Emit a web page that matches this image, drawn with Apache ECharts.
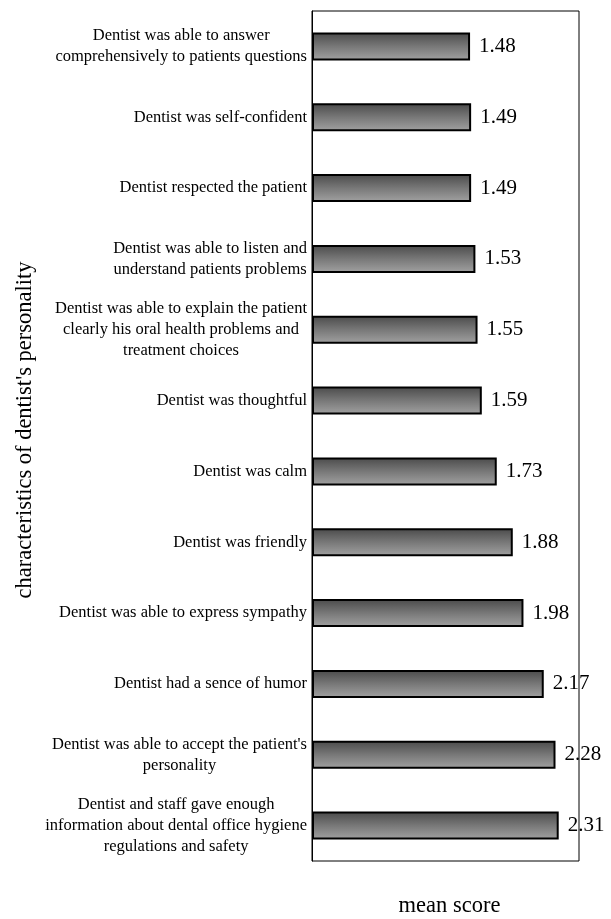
<!DOCTYPE html>
<html>
<head>
<meta charset="utf-8">
<script src="https://cdn.jsdelivr.net/npm/echarts@6/dist/echarts.min.js"></script>
<style>
  html, body { margin: 0; padding: 0; background: #fff; }
  #chart { width: 611px; height: 919px; }
</style>
</head>
<body>
<div id="chart"></div>
<script>
// Characteristics of the dentist's personality, top to bottom
const categories = [
  "Dentist was able to answer\ncomprehensively to patients questions",
  "Dentist was self-confident",
  "Dentist respected the patient",
  "Dentist was able to listen and\nunderstand patients problems",
  "Dentist was able to explain the patient\nclearly his oral health problems and\ntreatment choices",
  "Dentist was thoughtful",
  "Dentist was calm",
  "Dentist was friendly",
  "Dentist was able to express sympathy",
  "Dentist had a sence of humor",
  "Dentist was able to accept the patient's\npersonality",
  "Dentist and staff gave enough\ninformation about dental office hygiene\nregulations and safety"
];

// Mean score for each characteristic
const meanScores = [1.48, 1.49, 1.49, 1.53, 1.55, 1.59, 1.73, 1.88, 1.98, 2.17, 2.28, 2.31];

const xTitle = "mean score";
const yTitle = "characteristics of dentist's personality";

const FONT = "'Liberation Serif', 'Times New Roman', serif";

const chart = echarts.init(document.getElementById('chart'), null, { renderer: 'canvas' });

chart.setOption({
  animation: false,
  backgroundColor: '#ffffff',
  grid: {
    left: 312, right: 32, top: 11, bottom: 58,
    show: true, borderColor: '#000', borderWidth: 1,
    containLabel: false,
    outerBoundsMode: 'none'
  },
  xAxis: {
    type: 'value',
    min: 0, max: 2.5,
    axisLine: { show: false },
    axisTick: { show: false },
    axisLabel: { show: false },
    splitLine: { show: false },
    name: xTitle,
    nameLocation: 'middle',
    nameGap: 34,
    nameTextStyle: { fontFamily: FONT, fontSize: 22.5, color: '#000', padding: [0, 0, 0, 8] }
  },
  yAxis: {
    type: 'category',
    inverse: true,
    data: categories,
    axisLine: { show: true, lineStyle: { color: '#000', width: 1 } },
    axisTick: { show: false },
    splitLine: { show: false },
    axisLabel: {
      margin: 5,
      align: 'right',
      interval: 0,
      color: '#000',
      fontFamily: FONT,
      fontSize: 16.5,
      lineHeight: 21,
      formatter: function (v) {
        return v.split('\n').map(function (l) { return '{c|' + l + '}'; }).join('\n');
      },
      rich: {
        c: { align: 'center', fontFamily: FONT, fontSize: 16.5, lineHeight: 21, color: '#000' }
      }
    }
  },
  graphic: [{
    type: 'text',
    x: 25, y: 430,
    rotation: Math.PI / 2,
    style: {
      text: yTitle,
      font: "22.5px 'Liberation Serif', serif",
      fill: '#000',
      align: 'center',
      verticalAlign: 'middle'
    }
  }],
  series: [{
    type: 'bar',
    data: meanScores,
    barWidth: 28,
    itemStyle: {
      color: new echarts.graphic.LinearGradient(0, 0, 0, 1, [
        { offset: 0, color: '#4a4a4a' },
        { offset: 0.5, color: '#787878' },
        { offset: 1, color: '#a2a2a2' }
      ]),
      borderColor: '#000',
      borderWidth: 2
    },
    label: {
      show: true,
      position: 'right',
      distance: 9,
      color: '#000',
      fontFamily: FONT,
      fontSize: 21,
      formatter: function (p) { return p.value.toFixed(2); }
    }
  }]
});
</script>
</body>
</html>
